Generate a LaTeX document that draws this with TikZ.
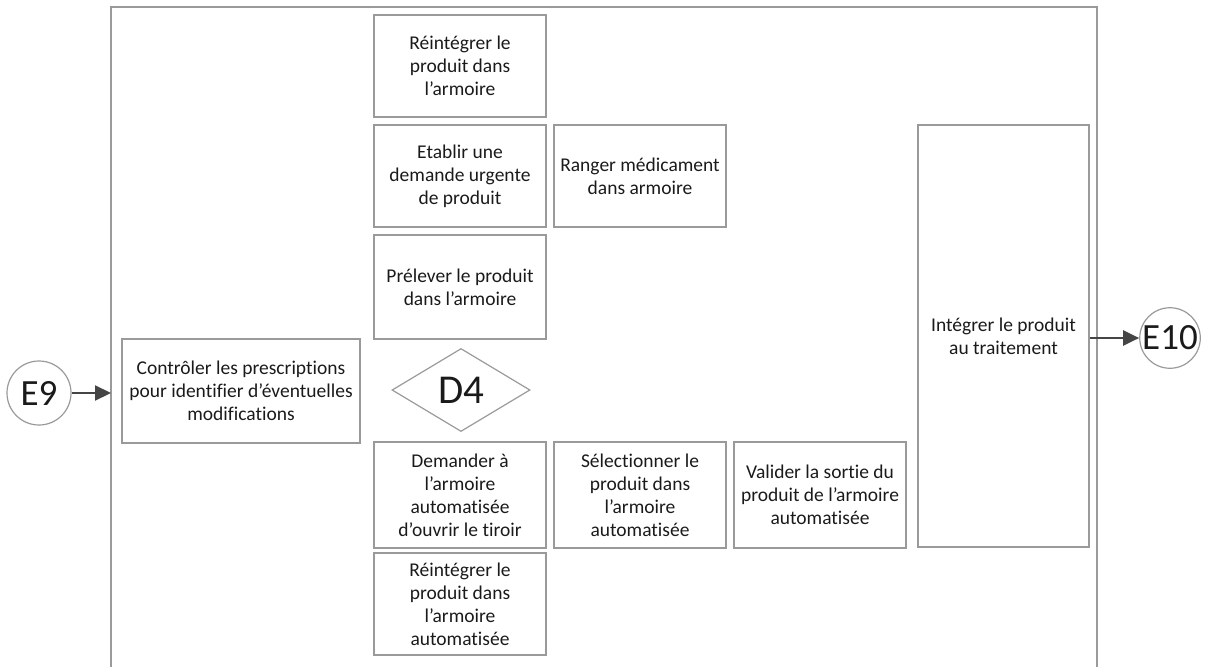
\documentclass[tikz,border=0pt]{standalone}
\usepackage{fontspec}
\setmainfont{Carlito}[Ligatures={NoCommon}]
\usetikzlibrary{shapes.geometric,arrows.meta}
\definecolor{boxline}{HTML}{9A9A9A}
\definecolor{arrowc}{HTML}{454545}
\definecolor{txt}{HTML}{1A1A1A}
\tikzset{
  taskbox/.style={draw=boxline, line width=1.3pt, rectangle, align=center,
    inner sep=2pt, text=txt, font=\fontsize{19.5}{23}\selectfont},
  decision/.style={draw=boxline, line width=1.2pt, diamond, inner sep=0pt,
    text=txt, font=\fontsize{41}{44}\selectfont},
  eventc/.style={draw=boxline, line width=1.2pt, circle, inner sep=0pt,
    text=txt, font=\fontsize{37}{40}\selectfont},
  flow/.style={draw=arrowc, line width=2.2pt, -{Triangle[length=16pt,width=15pt]}},
  frameline/.style={draw=boxline, line width=1.3pt}
}
\begin{document}
\begin{tikzpicture}[x=1pt,y=-1pt]
\useasboundingbox (0,0) rectangle (1206,666);
% frame
\draw[frameline] (111,680) -- (111,7) -- (1097,7) -- (1097,680);
\coordinate (fl) at (111,393);
% tasks
\node[taskbox, minimum width=172pt, minimum height=102pt] (r1) at (460,66) {Réintégrer le\\produit dans\\l’armoire};
\node[taskbox, minimum width=172pt, minimum height=102pt] (etab) at (460,176) {Etablir une\\demande urgente\\de produit};
\node[taskbox, minimum width=172pt, minimum height=102pt] (ranger) at (640,176) {Ranger médicament\\dans armoire};
\node[taskbox, minimum width=172pt, minimum height=104pt] (prel) at (460,287) {Prélever le produit\\dans l’armoire};
\node[decision, minimum width=138pt, minimum height=83pt] (d4) at (461,390) {D4};
\node[taskbox, minimum width=172pt, minimum height=106pt] (dem) at (460,495) {Demander à\\l’armoire\\automatisée\\d’ouvrir le tiroir};
\node[taskbox, minimum width=172pt, minimum height=106pt] (sel) at (640,495) {Sélectionner le\\produit dans\\l’armoire\\automatisée};
\node[taskbox, minimum width=172pt, minimum height=106pt] (val) at (820,495) {Valider la sortie du\\produit de l’armoire\\automatisée};
\node[taskbox, minimum width=172pt, minimum height=102pt] (r2) at (460,604) {Réintégrer le\\produit dans\\l’armoire\\automatisée};
\node[taskbox, minimum width=238pt, minimum height=104pt] (ctrl) at (241,391) {Contrôler les prescriptions\\pour identifier d’éventuelles\\modifications};
\node[taskbox, minimum width=171pt, minimum height=422pt] (integ) at (1003.5,336) {Intégrer le produit\\au traitement};
% events
\node[eventc, minimum size=64pt] (e9) at (39,393) {E9};
\node[eventc, minimum size=58pt] (e10) at (1170,338) {E10};
% connectors
\draw[flow] (e9) -- (fl);
\draw[flow] (integ.east |- e10) -- (e10);
\end{tikzpicture}
\end{document}
